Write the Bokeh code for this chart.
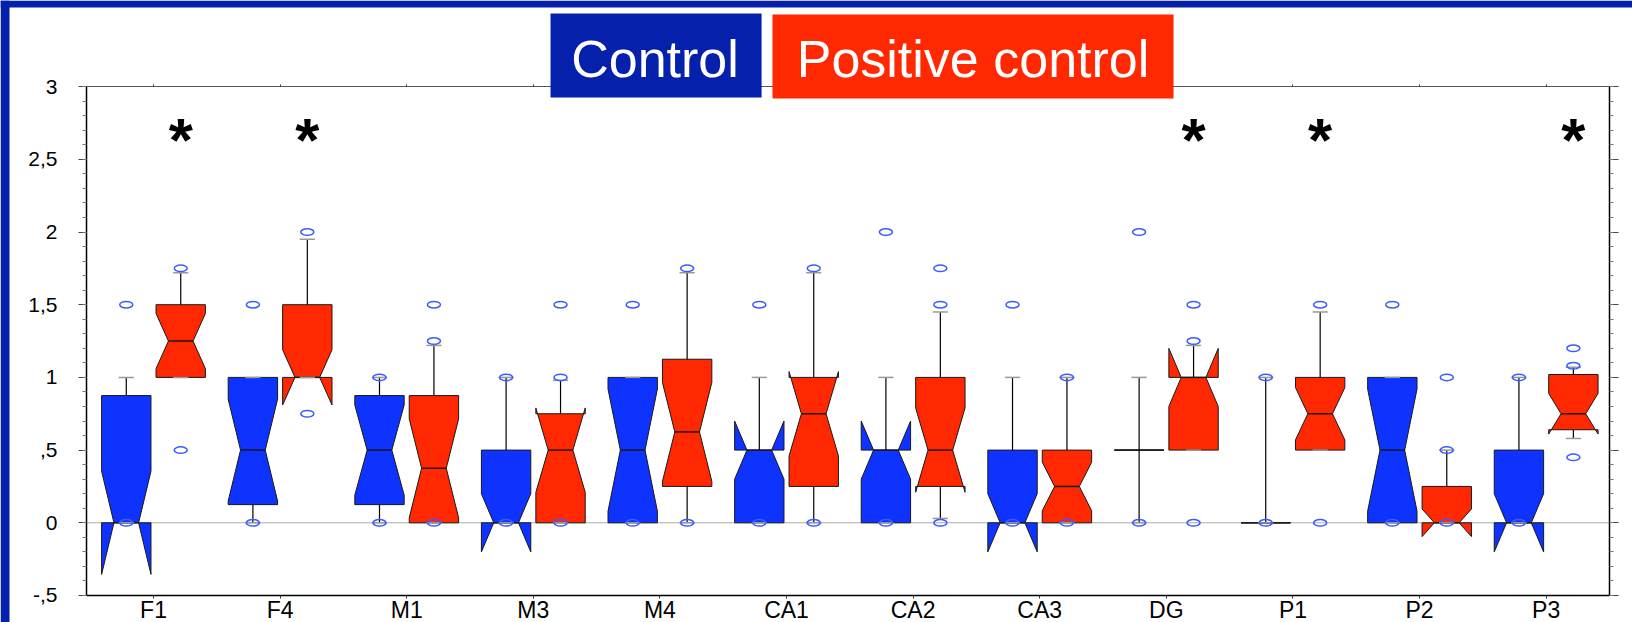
from bokeh.plotting import figure
from bokeh.models import Range1d, LinearAxis, FixedTicker, BoxAnnotation, Label
from bokeh.core.properties import value
from bokeh.embed import file_html
from bokeh.resources import INLINE

# ---------------- data ----------------
categories = ["F1", "F4", "M1", "M3", "M4", "CA1", "CA2", "CA3", "DG", "P1", "P2", "P3"]
series_names = ["Control", "Positive control"]

ctrl_q1 = [0, 0.125, 0.125, 0, 0, 0, 0, 0, 0.5, 0, 0, 0]
ctrl_median = [0, 0.5, 0.5, 0, 0.5, 0.5, 0.5, 0, 0.5, 0, 0.5, 0]
ctrl_q3 = [0.875, 1.0, 0.875, 0.5, 1.0, 0.5, 0.5, 0.5, 0.5, 0, 1.0, 0.5]
ctrl_notch = [0.355, 0.35, 0.31, 0.2, 0.42, 0.2, 0.2, 0.2, 0, 0, 0.42, 0.2]
ctrl_whisker_low = [0, 0, 0, 0, 0, 0, 0, 0, 0, 0, 0, 0]
ctrl_whisker_high = [1.0, 1.0, 1.0, 1.0, 1.0, 1.0, 1.0, 1.0, 1.0, 1.0, 1.0, 1.0]
ctrl_outliers = [[1.5, 0], [1.5, 0], [1.0, 0], [1.0, 0], [1.5, 0], [1.5, 0],
                 [2.0, 0], [1.5, 0], [2.0, 0], [1.0, 0], [1.5, 0], [1.0, 0]]

pos_q1 = [1.0, 1.0, 0, 0, 0.25, 0.25, 0.25, 0, 0.5, 0.5, 0, 0.64]
pos_median = [1.25, 1.0, 0.375, 0.5, 0.625, 0.75, 0.5, 0.25, 1.0, 0.75, 0, 0.75]
pos_q3 = [1.5, 1.5, 0.875, 0.75, 1.125, 1.0, 1.0, 0.5, 1.0, 1.0, 0.25, 1.02]
pos_notch = [0.19, 0.19, 0.34, 0.29, 0.34, 0.29, 0.29, 0.167, 0.2, 0.18, 0.095, 0.14]
pos_whisker_low = [1.0, 1.0, 0, 0, 0, 0, 0.03, 0, 0.5, 0.5, 0, 0.58]
pos_whisker_high = [1.72, 1.95, 1.22, 0.98, 1.72, 1.72, 1.45, 1.0, 1.22, 1.45, 0.5, 1.07]
pos_outliers = [[1.75, 0.5], [2.0, 0.75], [1.5, 1.25, 0], [1.5, 1.0, 0], [1.75, 0], [1.75, 0],
                [1.75, 1.5, 0], [1.0, 0], [1.5, 1.25, 0], [1.5, 0], [1.0, 0.5, 0], [1.2, 1.08, 0.45]]

significant = ["F1", "F4", "DG", "P1", "P3"]

y_ticks = [-0.5, 0, 0.5, 1, 1.5, 2, 2.5, 3]
y_tick_labels = ["-,5", "0", ",5", "1", "1,5", "2", "2,5", "3"]

# ---------------- styles / layout constants ----------------
SLIDE_BLUE = "#0520AA"
BOX_BLUE = "#0F33FF"
RED = "#FF2800"
OUTLIER = "#3A5BFF"
CAP_GRAY = "#999999"
OFFSET = 0.215
HALF_W = 0.195
WAIST = 0.5
CAP_HALF = 0.06
ASTERISK_Y = 2.70
FONT = "Liberation Sans"
AX_X0, AX_X1 = -0.529, 11.498      # plot-area edges (category units)
AX_Y0, AX_Y1 = -0.5, 3.0           # value-axis extent

# the frame covers the whole canvas; axes are pinned at the plot-area edges
p = figure(width=1632, height=622, x_range=Range1d(-1.2085, 11.682), y_range=Range1d(-0.6857, 3.5922),
           output_backend="svg", toolbar_location=None, x_axis_type=None, y_axis_type=None,
           min_border_left=0, min_border_right=0, min_border_top=0, min_border_bottom=0)
p.background_fill_color = "white"
p.border_fill_color = "white"
p.outline_line_color = None
p.xgrid.visible = False
p.ygrid.visible = False

# slide frame bands
p.add_layout(BoxAnnotation(right=-1.1374, fill_color=SLIDE_BLUE, fill_alpha=1, line_color=None))
p.add_layout(BoxAnnotation(bottom=3.544, fill_color=SLIDE_BLUE, fill_alpha=1, line_color=None))

# zero reference line
p.segment(x0=[AX_X0], y0=[0], x1=[AX_X1], y1=[0], line_color="#AAAAAA", line_width=1)


def draw_series(offset, q1, med, q3, notch, wlo, whi, outliers, color):
    xs, ys = [], []
    mx0, mx1, my = [], [], []
    wx, wy0, wy1 = [], [], []
    cx0, cx1, cy = [], [], []
    ox, oy = [], []
    for i, (a, m, b, n, lo, hi, outs) in enumerate(zip(q1, med, q3, notch, wlo, whi, outliers)):
        c = i + offset
        l, r = c - HALF_W, c + HALF_W
        wl, wr = c - HALF_W * WAIST, c + HALF_W * WAIST
        xs.append([l, r, r, wr, r, r, l, l, wl, l])
        ys.append([b, b, m + n, m, m - n, a, a, m - n, m, m + n])
        mx0.append(wl); mx1.append(wr); my.append(m)
        wx += [c, c]; wy0 += [b, a]; wy1 += [hi, lo]
        cx0 += [c - CAP_HALF, c - CAP_HALF]; cx1 += [c + CAP_HALF, c + CAP_HALF]; cy += [hi, lo]
        for o in outs:
            ox.append(c); oy.append(o)
    p.patches(xs, ys, fill_color=color, line_color="#1a1a1a", line_width=1)
    p.segment(x0=mx0, y0=my, x1=mx1, y1=my, line_color="#1a1a1a", line_width=1.5)
    p.segment(x0=wx, y0=wy0, x1=wx, y1=wy1, line_color="black", line_width=1.2)
    p.segment(x0=cx0, y0=cy, x1=cx1, y1=cy, line_color=CAP_GRAY, line_width=1.5)
    p.ellipse(x=ox, y=oy, width=13, height=6.5, width_units="screen", height_units="screen",
              fill_color=None, line_color=OUTLIER, line_width=1.5)


draw_series(-OFFSET, ctrl_q1, ctrl_median, ctrl_q3, ctrl_notch, ctrl_whisker_low,
            ctrl_whisker_high, ctrl_outliers, BOX_BLUE)
draw_series(OFFSET, pos_q1, pos_median, pos_q3, pos_notch, pos_whisker_low,
            pos_whisker_high, pos_outliers, RED)

sig_x = [categories.index(s) + OFFSET for s in significant]
p.text(x=sig_x, y=[ASTERISK_Y] * len(sig_x), text=["*"] * len(sig_x),
       text_font=value(FONT), text_font_style="bold", text_font_size="62px",
       text_align="center", text_baseline="alphabetic", y_offset=9, text_color="black")

# ---------------- axes ----------------
minor = [round(-0.5 + 0.1 * k, 1) for k in range(36)]
cat_ticks = list(range(len(categories)))

left = LinearAxis(ticker=FixedTicker(ticks=y_ticks, minor_ticks=minor),
                  fixed_location=AX_X0, bounds=(AX_Y0, AX_Y1),
                  major_label_overrides=dict(zip(y_ticks, y_tick_labels)),
                  major_tick_out=8, major_tick_in=0, minor_tick_out=4, minor_tick_in=0,
                  major_label_standoff=21, axis_line_color="black", axis_line_width=1.5,
                  major_tick_line_color="#444444", minor_tick_line_color="#777777",
                  major_label_text_font=FONT, major_label_text_font_size="21px",
                  major_label_text_color="black")
p.add_layout(left, "left")

right = LinearAxis(ticker=FixedTicker(ticks=y_ticks, minor_ticks=minor),
                   fixed_location=AX_X1, bounds=(AX_Y0, AX_Y1),
                   major_tick_out=9, major_tick_in=0, minor_tick_out=4, minor_tick_in=0,
                   major_label_text_color=None,
                   axis_line_color="black", axis_line_width=1.5,
                   major_tick_line_color="#444444", minor_tick_line_color="#777777")
p.add_layout(right, "right")

top = LinearAxis(ticker=FixedTicker(ticks=cat_ticks, minor_ticks=[]),
                 fixed_location=AX_Y1, bounds=(AX_X0, AX_X1),
                 major_tick_out=2, major_tick_in=0, major_label_text_color=None,
                 axis_line_color="#555555", axis_line_width=1,
                 major_tick_line_color="#333333", minor_tick_line_color=None)
p.add_layout(top, "above")

bottom = LinearAxis(ticker=FixedTicker(ticks=cat_ticks, minor_ticks=[]),
                    fixed_location=AX_Y0, bounds=(AX_X0, AX_X1),
                    major_label_overrides=dict(zip(cat_ticks, categories)),
                    major_tick_out=3, major_tick_in=0, major_label_standoff=-1,
                    axis_line_color="black", axis_line_width=1.5,
                    major_tick_line_color="#333333", minor_tick_line_color=None,
                    major_label_text_font=FONT, major_label_text_font_size="23px",
                    major_label_text_color="black")
p.add_layout(bottom, "below")

# ---------------- header (series key) ----------------
p.add_layout(BoxAnnotation(left=3.136, right=4.803, top=3.503, bottom=2.925, fill_color=SLIDE_BLUE,
                           fill_alpha=1, line_color=None))
p.add_layout(BoxAnnotation(left=4.889, right=8.057, top=3.496, bottom=2.918, fill_color=RED,
                           fill_alpha=1, line_color=None))
p.add_layout(Label(x=3.961, y=3.189, text=series_names[0], text_color="white", text_font=FONT,
                   text_font_size="52px", text_align="center", text_baseline="alphabetic"))
p.add_layout(Label(x=6.473, y=3.189, text=series_names[1], text_color="white", text_font=FONT,
                   text_font_size="52px", text_align="center", text_baseline="alphabetic"))

open("out.html", "w").write(file_html(p, INLINE))
